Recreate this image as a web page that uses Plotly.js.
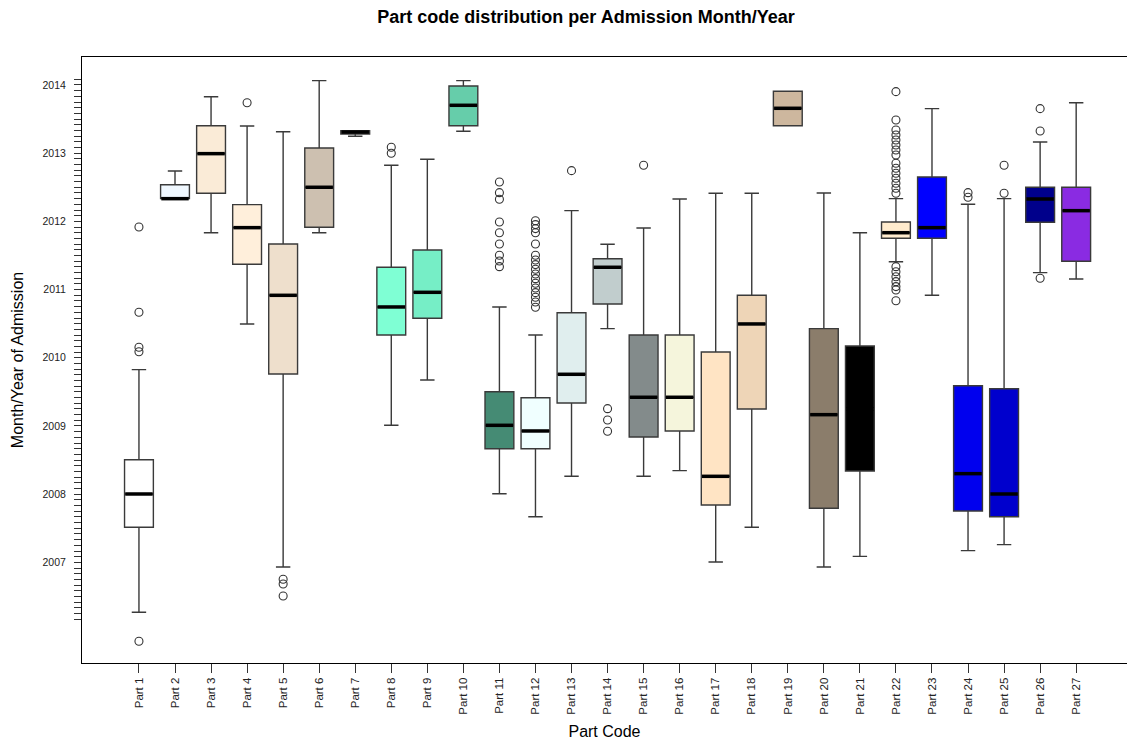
<!DOCTYPE html>
<html>
<head>
<meta charset="utf-8">
<script src="https://cdn.plot.ly/plotly-3.0.1.min.js"></script>
<style>html,body{margin:0;padding:0;background:#fff;}#chart{width:1127px;height:740px;}</style>
</head>
<body>
<div id="chart"></div>
<script>
const parts = ['Part 1','Part 2','Part 3','Part 4','Part 5','Part 6','Part 7','Part 8','Part 9','Part 10','Part 11','Part 12','Part 13','Part 14','Part 15','Part 16','Part 17','Part 18','Part 19','Part 20','Part 21','Part 22','Part 23','Part 24','Part 25','Part 26','Part 27'];

const lowerWhisker = [2006.268,2012.333,2011.834,2010.496,2006.933,2011.834,2013.248,2009.010,2009.674,2013.321,2008.007,2007.670,2008.262,2010.427,2008.262,2008.345,2007.006,2007.515,2013.403,2006.933,2007.089,2011.409,2010.916,2007.172,2007.260,2011.248,2011.155];
const q1 = [2007.515,2012.333,2012.412,2011.371,2009.762,2011.913,2013.282,2010.334,2010.579,2013.403,2008.667,2008.667,2009.337,2010.789,2008.839,2008.927,2007.842,2009.249,2013.403,2007.793,2008.340,2011.752,2011.752,2007.754,2007.670,2011.987,2011.415];
const median = [2008.003,2012.333,2012.993,2011.908,2010.916,2012.500,2013.310,2010.745,2010.960,2013.702,2009.010,2008.927,2009.758,2011.327,2009.421,2009.421,2008.262,2010.496,2013.658,2009.166,2009.250,2011.834,2011.908,2008.301,2008.003,2012.328,2012.157];
const q3 = [2008.506,2012.538,2013.403,2012.245,2011.669,2013.076,2013.330,2011.327,2011.581,2013.985,2009.503,2009.415,2010.661,2011.453,2010.334,2010.334,2010.085,2010.916,2013.908,2010.427,2010.173,2011.991,2012.651,2009.591,2009.547,2012.500,2012.500];
const upperWhisker = [2009.826,2012.739,2013.828,2013.399,2013.315,2014.063,2013.330,2012.823,2012.910,2014.063,2010.745,2010.334,2012.157,2011.664,2011.903,2012.328,2012.412,2012.412,2013.908,2012.416,2011.834,2012.333,2013.653,2012.251,2012.333,2013.164,2013.740];

const outliers = [
  [2011.918,2010.667,2010.154,2010.089,2005.843],
  [],[],
  [2013.740],
  [2006.752,2006.683,2006.507],
  [],[],
  [2013.087,2012.999],
  [],[],
  [2012.578,2012.421,2012.324,2011.991,2011.834,2011.669,2011.503,2011.420,2011.336],
  [2012.010,2011.953,2011.894,2011.834,2011.669,2011.503,2011.434,2011.366,2011.298,2011.229,2011.160,2011.092,2011.023,2010.955,2010.887,2010.818,2010.740],
  [2012.744],
  [2009.254,2009.088,2008.922],
  [2012.823],
  [],[],[],[],[],[],
  [2013.902,2013.487,2013.340,2013.267,2013.194,2013.120,2013.047,2012.974,2012.852,2012.779,2012.705,2012.632,2012.559,2012.485,2012.412,2011.336,2011.262,2011.189,2011.116,2011.044,2010.994,2010.837],
  [],
  [2012.421,2012.353],
  [2012.823,2012.412],
  [2013.653,2013.326,2011.166],
  []
];

const fillColors = ['#FFFFFF','#F0F8FF','#FAEBD7','#FFEFDB','#EEDFCC','#CDC0B0','#8B8378','#7FFFD4','#76EEC6','#66CDAA','#458B74','#F0FFFF','#E0EEEE','#C1CDCD','#838B8B','#F5F5DC','#FFE4C4','#EED5B7','#CDB79E','#8B7D6B','#000000','#FFEBCD','#0000FF','#0000EE','#0000CD','#00008B','#8A2BE2'];

const yearTicks = [2007,2008,2009,2010,2011,2012,2013,2014];

const BOX_W = 0.8;

const traces = parts.map((p, i) => ({
  type: 'box',
  orientation: 'v',
  x: [p],
  q1: [q1[i]],
  median: [median[i]],
  q3: [q3[i]],
  lowerfence: [lowerWhisker[i]],
  upperfence: [upperWhisker[i]],
  width: BOX_W,
  boxpoints: false,
  fillcolor: fillColors[i],
  line: {color: '#3a3a3a', width: 1.4},
  whiskerwidth: 0.5,
  hoverinfo: 'skip',
  showlegend: false
}));

const outX = [], outY = [];
outliers.forEach((arr, i) => arr.forEach(v => { outX.push(parts[i]); outY.push(v); }));
traces.push({
  type: 'scatter', mode: 'markers', x: outX, y: outY,
  marker: {symbol: 'circle-open', size: 8, color: '#333333', line: {width: 1.1}},
  hoverinfo: 'skip', showlegend: false
});

const shapes = median.map((m, i) => ({
  type: 'line', xref: 'x', yref: 'y',
  x0: i - BOX_W / 2 + 0.02, x1: i + BOX_W / 2 - 0.02, y0: m, y1: m,
  line: {color: '#000000', width: 3.5}
}));

const minorVals = [];
for (let k = 2; k <= 97; k++) {
  if (k % 12 !== 0) minorVals.push(2006 + k / 12);
}

const layout = {
  width: 1127, height: 740,
  margin: {l: 82, r: 0, t: 57, b: 77},
  paper_bgcolor: '#ffffff', plot_bgcolor: '#ffffff',
  font: {family: '"Liberation Sans", Arial, sans-serif', color: '#000'},
  title: {
    text: '<b>Part code distribution per Admission Month/Year</b>',
    font: {size: 18, family: '"Liberation Sans", Arial, sans-serif', color: '#000'},
    x: 0.52, xref: 'container', xanchor: 'center', y: 0.977, yref: 'container', yanchor: 'middle'
  },
  boxmode: 'overlay',
  shapes: shapes,
  xaxis: {
    type: 'category',
    categoryorder: 'array', categoryarray: parts,
    range: [-1.58, 27.41],
    showgrid: false, zeroline: false,
    showline: true, mirror: true, linecolor: '#000', linewidth: 1,
    ticks: 'outside', ticklen: 9, tickcolor: '#333',
    tickangle: -90,
    tickfont: {size: 11.5, color: '#222'},
    title: {text: 'Part Code', font: {size: 16, color: '#000'}, standoff: 12},
    automargin: false
  },
  yaxis: {
    range: [2005.525, 2014.41],
    tickmode: 'array', tickvals: yearTicks, ticktext: yearTicks.map(String),
    showgrid: false, zeroline: false,
    showline: true, mirror: true, linecolor: '#000', linewidth: 1,
    ticks: 'outside', ticklen: 7, tickcolor: '#333',
    ticklabelstandoff: 6,
    tickfont: {size: 10.5, color: '#222'},
    minor: {tickmode: 'array', tickvals: minorVals, ticks: 'outside', ticklen: 7, tickcolor: '#333', showgrid: false},
    title: {text: 'Month/Year of Admission', font: {size: 16, color: '#000'}, standoff: 14},
    automargin: false
  }
};

Plotly.newPlot('chart', traces, layout, {displayModeBar: false, staticPlot: true});
</script>
</body>
</html>
